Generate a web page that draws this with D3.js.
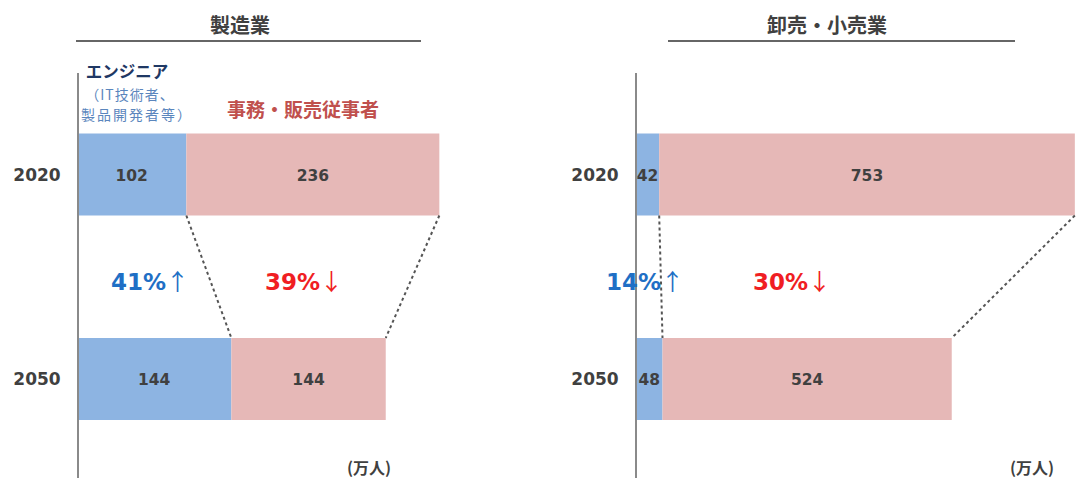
<!DOCTYPE html>
<html><head><meta charset="utf-8">
<script src="https://cdn.jsdelivr.net/npm/d3@7"></script>
<style>
html,body{margin:0;padding:0;background:#fff;}
svg{display:block;}
</style></head>
<body>
<svg id="chart" width="1079" height="478"></svg>
<script>
// ---- data ----
const years = ["2020", "2050"];
const panelTitles = ["製造業", "卸売・小売業"];
const engineers = [[102, 144], [42, 48]];      // 万人 (panel x year)
const clerical = [[236, 144], [753, 524]];     // 万人
const engChange = ["41%", "14%"];
const clerChange = ["39%", "30%"];
const engArrow = "↑";
const clerArrow = "↓";
const engLegend = ["エンジニア", "（IT技術者、", "製品開発者等）"];
const clerLegend = "事務・販売従事者";
const unitLabel = "(万人)";

// ---- layout ----
const svg = d3.select("#chart");
const W = 1079, H = 478;
const panels = [
  {x0: 77, pxPerUnit: 1.072, axisX: 78, titleX: 240, ulX: [76, 421], yearX: 37, unitX: 369,
   engPctX: 150, clerPctX: 304},
  {x0: 636, pxPerUnit: 0.552, axisX: 636, titleX: 827, ulX: [668, 1015], yearX: 595, unitX: 1032,
   engPctX: 645, clerPctX: 792}
];
const y = d3.scalePoint().domain(years).range([174.5, 379]);
const barH = 82;

const numFont = "'DejaVu Sans', Verdana, sans-serif";
const jpFont = "'Noto Sans CJK JP', 'Noto Sans', sans-serif";

panels.forEach((p, i) => {
  const x = d3.scaleLinear().domain([0, 100]).range([p.x0, p.x0 + 100 * p.pxPerUnit]);
  const g = svg.append("g");

  // title + underline
  g.append("text").attr("x", p.titleX).attr("y", 33).attr("text-anchor", "middle")
    .attr("font-family", jpFont).attr("font-weight", "bold").attr("font-size", 20)
    .attr("fill", "#404040").text(panelTitles[i]);
  g.append("line").attr("x1", p.ulX[0]).attr("x2", p.ulX[1]).attr("y1", 41).attr("y2", 41)
    .attr("stroke", "#666").attr("stroke-width", 2);

  const rows = years.map((yr, j) => ({yr, e: engineers[i][j], c: clerical[i][j]}));

  // bars
  g.selectAll(".eng").data(rows).join("rect")
    .attr("x", x(0)).attr("y", d => y(d.yr) - barH / 2)
    .attr("width", d => x(d.e) - x(0)).attr("height", barH)
    .attr("fill", "#8db4e2");
  g.selectAll(".cler").data(rows).join("rect")
    .attr("x", d => x(d.e)).attr("y", d => y(d.yr) - barH / 2)
    .attr("width", d => x(d.e + d.c) - x(d.e)).attr("height", barH)
    .attr("fill", "#e6b8b7");

  // values
  g.selectAll(".ev").data(rows).join("text")
    .attr("x", d => (x(0) + x(d.e)) / 2).attr("y", d => y(d.yr) + 6)
    .attr("text-anchor", "middle").attr("font-family", numFont).attr("font-weight", "bold")
    .attr("font-size", 15.5).attr("fill", "#404040").text(d => d.e);
  g.selectAll(".cv").data(rows).join("text")
    .attr("x", d => (x(d.e) + x(d.e + d.c)) / 2).attr("y", d => y(d.yr) + 6)
    .attr("text-anchor", "middle").attr("font-family", numFont).attr("font-weight", "bold")
    .attr("font-size", 15.5).attr("fill", "#404040").text(d => d.c);

  // year labels
  g.selectAll(".yr").data(years).join("text")
    .attr("x", p.yearX).attr("y", d => y(d) + 6).attr("text-anchor", "middle")
    .attr("font-family", numFont).attr("font-weight", "bold").attr("font-size", 17)
    .attr("fill", "#404040").text(d => d);

  // dashed connectors
  const r0 = rows[0], r1 = rows[1];
  const yTop = y(years[0]) + barH / 2, yBot = y(years[1]) - barH / 2;
  [[x(r0.e), x(r1.e)], [x(r0.e + r0.c), x(r1.e + r1.c)]].forEach(([a, b]) => {
    g.append("line").attr("x1", a).attr("y1", yTop).attr("x2", b).attr("y2", yBot)
      .attr("stroke", "#555").attr("stroke-width", 2).attr("stroke-dasharray", "3,3");
  });

  // axis line
  g.append("line").attr("x1", p.axisX).attr("x2", p.axisX).attr("y1", 73).attr("y2", H)
    .attr("stroke", "#8a8a8a").attr("stroke-width", 2);

  // change labels
  const addPct = (cx, txt, arrow, col) => {
    const t = g.append("text").attr("x", cx).attr("y", 290).attr("text-anchor", "middle")
      .attr("fill", col);
    t.append("tspan").attr("font-family", numFont).attr("font-weight", "bold")
      .attr("font-size", 23).text(txt);
    t.append("tspan").attr("font-family", jpFont).attr("font-weight", "normal")
      .attr("font-size", 23).text(arrow);
  };
  addPct(p.engPctX, engChange[i], engArrow, "#1f6fc5");
  addPct(p.clerPctX, clerChange[i], clerArrow, "#f01e23");

  // unit
  g.append("text").attr("x", p.unitX).attr("y", 474).attr("text-anchor", "middle")
    .attr("font-family", jpFont).attr("font-weight", "bold").attr("font-size", 16)
    .attr("fill", "#404040").text(unitLabel);
});

// legend labels (left panel)
svg.append("text").attr("x", 127).attr("y", 78).attr("text-anchor", "middle")
  .attr("font-family", jpFont).attr("font-weight", "bold").attr("font-size", 16.5)
  .attr("fill", "#1f3864").text(engLegend[0]);
svg.append("text").attr("x", 130).attr("y", 99.5).attr("text-anchor", "middle")
  .attr("font-family", jpFont).attr("font-size", 14).attr("letter-spacing", 1)
  .attr("fill", "#5b86bd").text(engLegend[1]);
svg.append("text").attr("x", 137).attr("y", 120).attr("text-anchor", "middle")
  .attr("font-family", jpFont).attr("font-size", 14).attr("letter-spacing", 2)
  .attr("fill", "#5b86bd").text(engLegend[2]);
svg.append("text").attr("x", 303).attr("y", 117).attr("text-anchor", "middle")
  .attr("font-family", jpFont).attr("font-weight", "bold").attr("font-size", 19)
  .attr("fill", "#c0504d").text(clerLegend);
</script>
</body></html>
